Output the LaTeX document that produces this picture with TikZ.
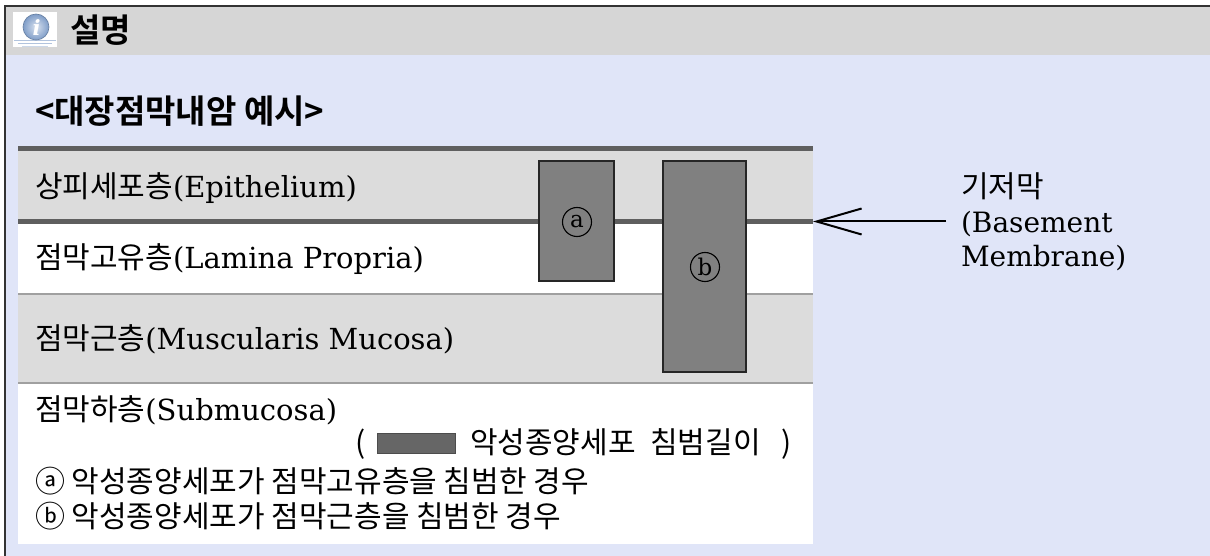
\documentclass[tikz,border=0pt]{standalone}
\usepackage{fontspec}
\setmainfont{DejaVu Serif}
\newfontfamily\kr{Noto Sans CJK KR}[BoldFont={Noto Sans CJK KR Bold}]
\newcommand\krl[1]{{\kr\fontsize{30}{34}\selectfont #1}}
\usetikzlibrary{arrows.meta}
\definecolor{hdr}{HTML}{D6D6D6}
\definecolor{bodybg}{HTML}{E0E5F8}
\definecolor{layergray}{HTML}{DCDCDC}
\definecolor{bmline}{HTML}{5F5F5F}
\definecolor{thinline}{HTML}{A0A0A0}
\definecolor{tumor}{HTML}{808080}
\definecolor{swatchc}{HTML}{666666}
\definecolor{iconblue}{HTML}{7F9DC8}
\definecolor{frame}{HTML}{333333}
\begin{document}
\begin{tikzpicture}[x=1pt,y=-1pt,
  every node/.style={inner sep=0pt, outer sep=0pt, text=black},
  lbl/.style={anchor=west, font=\fontsize{29}{34}\selectfont},
  krtext/.style={anchor=west, font=\kr\fontsize{30}{34}\selectfont},
  title/.style={anchor=west, font=\kr\bfseries\fontsize{33}{38}\selectfont},
  tumorbox/.style={draw=black!85, line width=1.5pt, fill=tumor},
  circlabel/.style={circle, draw=black, line width=1.1pt, minimum size=29pt, font=\fontsize{23}{23}\selectfont},
  thick layer/.style={draw=bmline, line width=5pt},
  thin layer/.style={draw=thinline, line width=2pt},
  pointer/.style={draw=black, line width=2pt, -{Straight Barb[length=45pt,width=26pt,line width=2pt]}}
]
\useasboundingbox (0,0) rectangle (1210,556);
\fill[white] (0,0) rectangle (1210,556);
% header and body
\fill[hdr] (5,6) rectangle (1210,55);
\fill[bodybg] (5,55) rectangle (1210,556);
\draw[frame, line width=2pt] (1210,6) -- (5,6) -- (5,556);
% icon
\fill[white] (13,12) rectangle (57,47);
\draw[iconblue!60, line width=0.8pt] (14,40) -- (56,40);
\draw[iconblue!60, line width=0.8pt] (18,43.5) -- (52,43.5);
\draw[iconblue!40, line width=0.6pt] (22,46) -- (48,46);
\shade[inner color=iconblue!30, outer color=iconblue] (36,27) circle (13);
\draw[iconblue!80!black, line width=0.6pt] (36,27) circle (13);
\node[font=\bfseries\itshape\fontsize{21}{21}\selectfont, text=white] (iconi) at (36.5,27.5) {i};
\node[title] (hdrtitle) at (70,30) {설명};
\node[title] (example) at (35,111) {<대장점막내암 예시>};
% layers
\fill[layergray] (18,151) rectangle (813,219);
\fill[white] (18,224) rectangle (813,294);
\fill[layergray] (18,294) rectangle (813,383);
\fill[white] (18,383) rectangle (813,544);
\draw[thick layer] (18,149) -- (813,149);
\coordinate (bmstart) at (18,221.5);
\coordinate (bmend) at (813,221.5);
\draw[thick layer] (bmstart) -- (bmend);
\draw[thin layer] (18,294) -- (813,294);
\draw[thin layer] (18,383) -- (813,383);
% layer labels
\node[lbl] (epi) at (35,188) {\krl{상피세포층}(Epithelium)};
\node[lbl] (lam) at (35,259) {\krl{점막고유층}(Lamina Propria)};
\node[lbl] (mus) at (35,339) {\krl{점막근층}(Muscularis Mucosa)};
\node[lbl] (sub) at (35,410) {\krl{점막하층}(Submucosa)};
% tumour boxes
\node[tumorbox, minimum width=75pt, minimum height=120pt] (boxa) at (576.5,221) {};
\node[tumorbox, minimum width=83pt, minimum height=211pt] (boxb) at (704.5,266.5) {};
\node[circlabel] (laba) at (577,222) {a};
\node[circlabel] (labb) at (705,267) {b};
% legend
\node[krtext] (lparen) at (355,444) {(};
\node[draw=black!70, line width=0.8pt, fill=swatchc, minimum width=78pt, minimum height=20pt] (swatch) at (416.5,443) {};
\node[krtext] (legtext) at (470,444) {악성종양세포\hspace{8pt} 침범길이\hspace{14pt} )};
\node[krtext] (nota) at (35,481) {ⓐ 악성종양세포가 점막고유층을 침범한 경우};
\node[krtext] (notb) at (35,516) {ⓑ 악성종양세포가 점막근층을 침범한 경우};
% basement membrane label and pointer
\node[lbl, align=left, font=\fontsize{28}{34.5}\selectfont] (bmlabel) at (961,222) {\krl{기저막}\\(Basement\\Membrane)};
\coordinate (atail) at (946,221.5);
\draw[pointer] (atail) -- (bmend);
\end{tikzpicture}
\end{document}
